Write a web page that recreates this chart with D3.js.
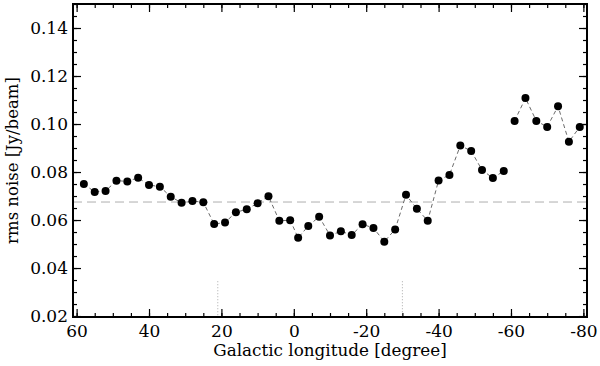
<!DOCTYPE html>
<html>
<head>
<meta charset="utf-8">
<script src="https://cdn.jsdelivr.net/npm/d3@7"></script>
<style>
    body { margin: 0; background: #fff; }
    svg { display: block; }
</style>
</head>
<body>
<div id="chart"></div>
<script>
// galactic longitude of each field (degree) and its rms noise (Jy/beam)
const longitudes = [58, 55, 52, 49, 46, 43, 40, 37, 34, 31, 28, 25, 22, 19, 16,
    13, 10, 7, 4, 1, -1.2, -4, -7, -10, -13, -16, -19, -22, -25, -28, -31, -34,
    -37, -40, -43, -46, -49, -52, -55, -58, -61, -64, -67, -70, -73, -76, -79];
const rmsNoise = [0.0750, 0.0717, 0.0721, 0.0764, 0.0761, 0.0776, 0.0746, 0.0739,
    0.0697, 0.0672, 0.0679, 0.0674, 0.0583, 0.0590, 0.0632, 0.0645, 0.0670, 0.0699,
    0.0597, 0.0599, 0.0526, 0.0575, 0.0614, 0.0536, 0.0553, 0.0538, 0.0582, 0.0567,
    0.0510, 0.0561, 0.0705, 0.0647, 0.0597, 0.0765, 0.0788, 0.0910, 0.0888, 0.0808,
    0.0775, 0.0804, 0.1013, 0.1108, 0.1013, 0.0988, 0.1074, 0.0926, 0.0988];
// the line is broken between the two surveys
const segments = [0, 0, 0, 0, 0, 0, 0, 0, 0, 0, 0, 0, 0, 0, 0, 0, 0, 0, 0, 0, 0, 0, 0, 0,
    0, 0, 0, 0, 0, 0, 0, 0, 0, 0, 0, 0, 0, 0, 0, 0, 1, 1, 1, 1, 1, 1, 1];

const meanNoise = 0.0675;
const markerLongitudes = [21, -30];
const markerTop = 0.0345;

const xTicks = [60, 40, 20, 0, -20, -40, -60, -80];
const yTicks = [0.02, 0.04, 0.06, 0.08, 0.10, 0.12, 0.14];

const font = "'DejaVu Serif', serif";

const points = longitudes.map((l, i) => ({ l, v: rmsNoise[i], s: segments[i] }));

const margin = { top: 4, right: 13, bottom: 49, left: 73 };
const width = 600 - margin.left - margin.right;
const height = 366 - margin.top - margin.bottom;

const svg = d3.select("#chart")
    .append("svg")
    .attr("width", 600)
    .attr("height", 366);

const g = svg.append("g")
    .attr("transform", `translate(${margin.left}, ${margin.top})`);

const x = d3.scaleLinear().domain([61, -81]).range([0, width]);
const y = d3.scaleLinear().domain([0.0196, 0.15]).range([height, 0]);

//reference lines
g.append("line")
    .attr("x1", 0)
    .attr("x2", width)
    .attr("y1", y(meanNoise))
    .attr("y2", y(meanNoise))
    .attr("stroke", "#999")
    .attr("stroke-width", 0.8)
    .attr("stroke-dasharray", "9,5");

g.selectAll(".marker")
    .data(markerLongitudes)
    .enter()
    .append("line")
    .attr("class", "marker")
    .attr("x1", d => x(d))
    .attr("x2", d => x(d))
    .attr("y1", y(markerTop))
    .attr("y2", height)
    .attr("stroke", "#aaa")
    .attr("stroke-width", 1)
    .attr("stroke-dasharray", "1,2");

//connecting line
const line = d3.line().x(d => x(d.l)).y(d => y(d.v));
g.selectAll(".trace")
    .data(d3.groups(points, d => d.s).map(p => p[1]))
    .enter()
    .append("path")
    .attr("class", "trace")
    .attr("d", line)
    .attr("fill", "none")
    .attr("stroke", "#444")
    .attr("stroke-width", 0.8)
    .attr("stroke-dasharray", "4,3");

g.selectAll("circle")
    .data(points)
    .enter()
    .append("circle")
    .attr("cx", d => x(d.l))
    .attr("cy", d => y(d.v))
    .attr("r", 4)
    .attr("fill", "#000");

//axes, ticks on all four sides
const xMinor = d3.range(60, -81, -5);
const yMinor = d3.range(0.02, 0.1501, 0.005);

function drawAxis(axis, minor, major, transform, labels) {
    g.append("g")
        .attr("transform", transform)
        .call(axis.tickValues(minor).tickSize(4).tickFormat(""))
        .call(a => a.select(".domain").remove());
    const m = g.append("g")
        .attr("transform", transform)
        .call(axis.tickValues(major).tickSize(8).tickFormat(labels));
    m.select(".domain").remove();
    m.attr("font-family", font).attr("font-size", 17);
    return m;
}

// plain hyphen for negatives, as in the original
const bottom = drawAxis(d3.axisTop(x), xMinor, xTicks, `translate(0, ${height})`, d => String(d));
bottom.selectAll("text")
    .attr("y", 20)
    .attr("dy", 0);
drawAxis(d3.axisBottom(x), xMinor, xTicks, "translate(0, 0)", "");
const left = drawAxis(d3.axisRight(y), yMinor, yTicks, "translate(0, 0)", d3.format(".2f"));
left.selectAll("text")
    .attr("x", -5)
    .attr("text-anchor", "end");
drawAxis(d3.axisLeft(y), yMinor, yTicks, `translate(${width}, 0)`, "");

g.selectAll(".tick line").attr("stroke", "#000").attr("stroke-width", 1.2);

g.append("rect")
    .attr("width", width)
    .attr("height", height)
    .attr("fill", "none")
    .attr("stroke", "#000")
    .attr("stroke-width", 2);

//titles
svg.append("text")
    .attr("x", margin.left + width / 2)
    .attr("y", 356)
    .attr("text-anchor", "middle")
    .attr("font-family", font)
    .attr("font-size", 16.8)
    .text("Galactic longitude [degree]");

svg.append("text")
    .attr("transform", `translate(18, ${margin.top + height / 2}) rotate(-90)`)
    .attr("text-anchor", "middle")
    .attr("font-family", font)
    .attr("font-size", 16.5)
    .text("rms noise [Jy/beam]");
</script>
</body>
</html>
